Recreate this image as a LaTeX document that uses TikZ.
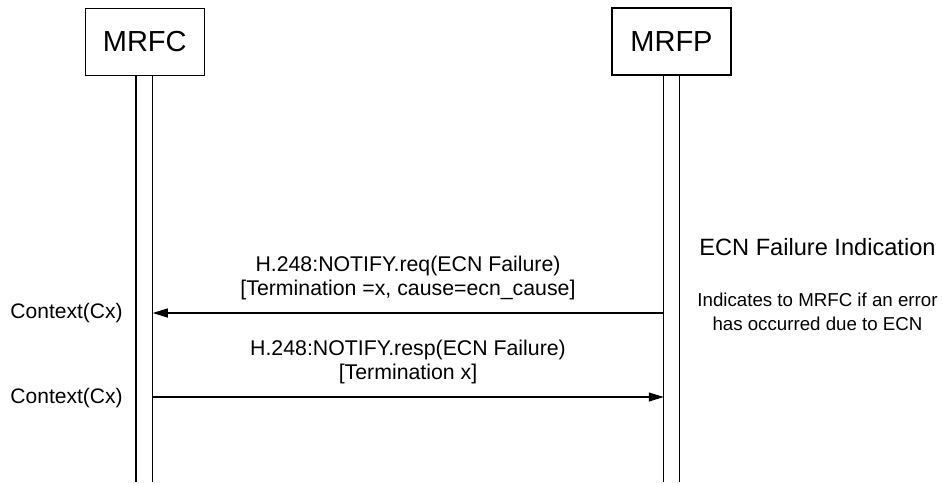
\documentclass[tikz,border=0pt]{standalone}
\usepackage{fontspec}
\setmainfont{Liberation Sans}
\usetikzlibrary{arrows.meta,positioning}

\begin{document}
\begin{tikzpicture}[x=1pt,y=-1pt,line width=1.1pt,
  entity/.style={draw,minimum width=119pt,minimum height=67pt,inner sep=0pt,font=\fontsize{29}{34}\selectfont},
  msg/.style={-{Triangle[length=15pt,width=9pt]}},
  lbl/.style={align=center,font=\fontsize{21.3}{24}\selectfont},
  ctx/.style={font=\fontsize{21}{24}\selectfont}]
  \useasboundingbox (0,0) rectangle (943,483);
  \node[entity] (mrfc) at (144.75,42) {MRFC};
  \node[entity] (mrfp) at (671.5,41.5) {MRFP};
  % lifelines
  \coordinate (fcL) at ([xshift=-8.75pt]mrfc.south);
  \coordinate (fcR) at ([xshift=8pt]mrfc.south);
  \coordinate (fpL) at ([xshift=-7.75pt]mrfp.south);
  \coordinate (fpR) at ([xshift=8.25pt]mrfp.south);
  \foreach \c in {fcL,fcR,fpL,fpR}{\draw (\c) -- (\c |- 0,482);}
  % messages
  \draw[msg] (fpL |- 0,313) -- (fcR |- 0,313);
  \node[lbl] (req) at (408,278) {H.248:NOTIFY.req(ECN Failure)\\{[}Termination =x, cause=ecn\_cause]};
  \draw[msg] (fcR |- 0,397) -- (fpL |- 0,397);
  \node[lbl] (resp) at (408,361.5) {H.248:NOTIFY.resp(ECN Failure)\\{[}Termination x]};
  \node[ctx] (cx1) at (66.5,313) {Context(Cx)};
  \node[ctx] (cx2) at (66.5,398) {Context(Cx)};
  % note
  \node[font=\fontsize{23.6}{26}\selectfont] (ecn) at (817.5,247) {ECN Failure Indication};
  \node[align=center,font=\fontsize{18.7}{24}\selectfont] (ind) at (817.5,312) {Indicates to MRFC if an error\\has occurred due to ECN};
\end{tikzpicture}
\end{document}
